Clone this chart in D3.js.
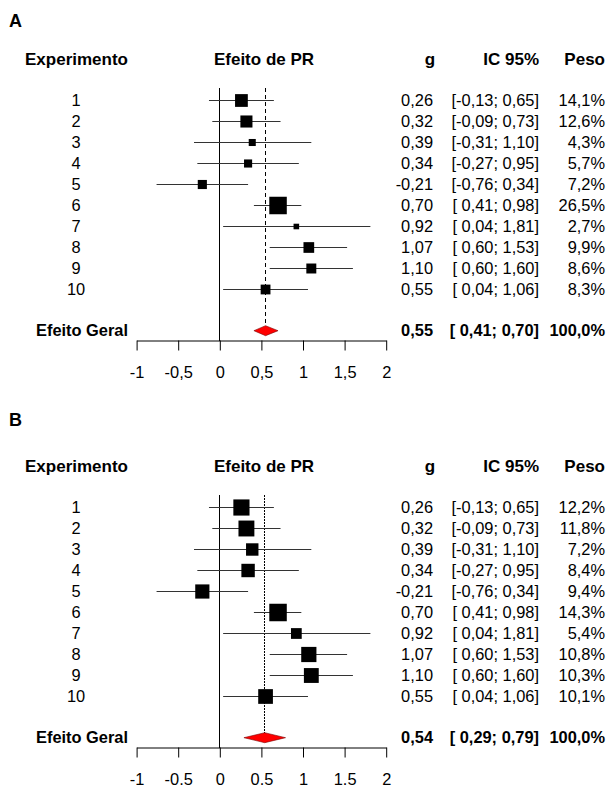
<!DOCTYPE html>
<html>
<head>
<meta charset="utf-8">
<script src="https://cdn.jsdelivr.net/npm/d3@7"></script>
<style>
  html, body { margin: 0; padding: 0; background: #fff; }
  svg { display: block; }
  text { font-family: "Liberation Sans", Arial, sans-serif; white-space: pre; }
</style>
</head>
<body>
<svg id="chart" width="609" height="787"></svg>
<script>
// ---------- DATA ----------
const experiments = ["1", "2", "3", "4", "5", "6", "7", "8", "9", "10"];
const effectG   = [0.26, 0.32, 0.39, 0.34, -0.21, 0.70, 0.92, 1.07, 1.10, 0.55];
const ciLower   = [-0.13, -0.09, -0.31, -0.27, -0.76, 0.41, 0.04, 0.60, 0.60, 0.04];
const ciUpper   = [0.65, 0.73, 1.10, 0.95, 0.34, 0.98, 1.81, 1.53, 1.60, 1.06];
const weightsA  = [14.1, 12.6, 4.3, 5.7, 7.2, 26.5, 2.7, 9.9, 8.6, 8.3];
const weightsB  = [12.2, 11.8, 7.2, 8.4, 9.4, 14.3, 5.4, 10.8, 10.3, 10.1];
const overallA  = [0.55, 0.41, 0.70];   // g, lower, upper
const overallB  = [0.54, 0.29, 0.79];
const tickValues  = [-1, -0.5, 0, 0.5, 1, 1.5, 2];
const tickLabelsA = ["-1", "-0,5", "0", "0,5", "1", "1,5", "2"];
const tickLabelsB = ["-1", "-0.5", "0", "0.5", "1", "1.5", "2"];
const headers = ["Experimento", "Efeito de PR", "g", "IC 95%", "Peso"];
const overallLabel = "Efeito Geral";

// ---------- HELPERS ----------
const svg = d3.select("#chart");
const f2 = v => d3.format(".2f")(v).replace(".", ",").replace("−", "-");
const f1 = v => d3.format(".1f")(v).replace(".", ",");
const ciText = (lo, hi) => "[" + (lo < 0 ? "" : " ") + f2(lo) + "; " + f2(hi) + "]";

const x = d3.scaleLinear().domain([-1, 2]).range([136.6, 386.2]);

function drawPanel(panelLabel, labelBaseline, dy, weights, overall, tickLabels, dashArray) {
  const g = svg.append("g").attr("transform", `translate(0,${dy})`);
  const y = d3.scalePoint().domain(experiments).range([100.5, 289.5]);
  const yOverall = 330.7;
  const yAxis = 340.5;
  const size = d3.scaleSqrt().domain([0, d3.max(weights)]).range([0, 17.5]);

  svg.append("text").attr("x", 9).attr("y", labelBaseline)
    .attr("font-size", 18).attr("font-weight", "bold").text(panelLabel);

  // headers
  const hy = 65.3;
  const hdr = g.append("g").attr("font-size", 17).attr("font-weight", "bold");
  hdr.append("text").attr("x", 128).attr("y", hy).attr("text-anchor", "end").text(headers[0]);
  hdr.append("text").attr("x", 264).attr("y", hy).attr("text-anchor", "middle").text(headers[1]);
  hdr.append("text").attr("x", 430).attr("y", hy).attr("text-anchor", "middle").text(headers[2]);
  hdr.append("text").attr("x", 539).attr("y", hy).attr("text-anchor", "end").text(headers[3]);
  hdr.append("text").attr("x", 605).attr("y", hy).attr("text-anchor", "end").text(headers[4]);

  // reference lines
  g.append("line").attr("x1", x(0)).attr("x2", x(0)).attr("y1", 88).attr("y2", yAxis)
    .attr("stroke", "#000").attr("stroke-width", 1).attr("shape-rendering", "crispEdges");
  g.append("line").attr("x1", x(overall[0])).attr("x2", x(overall[0])).attr("y1", 88).attr("y2", yOverall)
    .attr("stroke", "#000").attr("stroke-width", 1).attr("stroke-dasharray", dashArray)
    .attr("shape-rendering", "crispEdges");

  // study rows
  const rows = g.selectAll("g.row").data(experiments).join("g").attr("class", "row");
  rows.append("line")
    .attr("x1", (d, i) => x(ciLower[i])).attr("x2", (d, i) => x(ciUpper[i]))
    .attr("y1", d => y(d)).attr("y2", d => y(d))
    .attr("stroke", "#333").attr("stroke-width", 1);
  rows.append("rect")
    .attr("x", (d, i) => x(effectG[i]) - size(weights[i]) / 2)
    .attr("y", (d, i) => y(d) - size(weights[i]) / 2)
    .attr("width", (d, i) => size(weights[i]))
    .attr("height", (d, i) => size(weights[i]))
    .attr("fill", "#000");

  const ty = 5.3;
  rows.append("text").attr("x", 76).attr("y", d => y(d) + ty)
    .attr("text-anchor", "middle").attr("font-size", 16.4).text(d => d);
  rows.append("text").attr("x", 433).attr("y", d => y(d) + ty)
    .attr("text-anchor", "end").attr("font-size", 16.4).text((d, i) => f2(effectG[i]));
  rows.append("text").attr("x", 539).attr("y", d => y(d) + ty)
    .attr("text-anchor", "end").attr("font-size", 16.4).text((d, i) => ciText(ciLower[i], ciUpper[i]));
  rows.append("text").attr("x", 605).attr("y", d => y(d) + ty)
    .attr("text-anchor", "end").attr("font-size", 16.4).text((d, i) => f1(weights[i]) + "%");

  // overall
  const h = 5;
  g.append("path")
    .attr("d", `M${x(overall[1])},${yOverall} L${x(overall[0])},${yOverall - h} L${x(overall[2])},${yOverall} L${x(overall[0])},${yOverall + h} Z`)
    .attr("fill", "#ff0000").attr("stroke", "#7a0000").attr("stroke-width", 0.6);
  const ob = g.append("g").attr("font-size", 16.4).attr("font-weight", "bold");
  ob.append("text").attr("x", 128).attr("y", yOverall + 5.6).attr("text-anchor", "end").text(overallLabel);
  ob.append("text").attr("x", 433).attr("y", yOverall + 5.6).attr("text-anchor", "end").text(f2(overall[0]));
  ob.append("text").attr("x", 539).attr("y", yOverall + 5.6).attr("text-anchor", "end").text(ciText(overall[1], overall[2]));
  ob.append("text").attr("x", 605).attr("y", yOverall + 5.6).attr("text-anchor", "end").text("100,0%");

  // axis
  const axis = d3.axisBottom(x).tickValues(tickValues)
    .tickFormat((d, i) => tickLabels[i]).tickSize(10).tickSizeOuter(0).tickPadding(16);
  const ag = g.append("g").attr("transform", `translate(0,${yAxis})`).call(axis);
  ag.selectAll("text").attr("font-size", 16.4).attr("fill", "#000")
    .style("font-family", '"Liberation Sans", Arial, sans-serif');
  ag.selectAll("line, path").attr("stroke", "#000");
}

drawPanel("A", 27, 0, weightsA, overallA, tickLabelsA, "4,3");
drawPanel("B", 426, 407, weightsB, overallB, tickLabelsB, "1.5,1.5");
</script>
</body>
</html>
